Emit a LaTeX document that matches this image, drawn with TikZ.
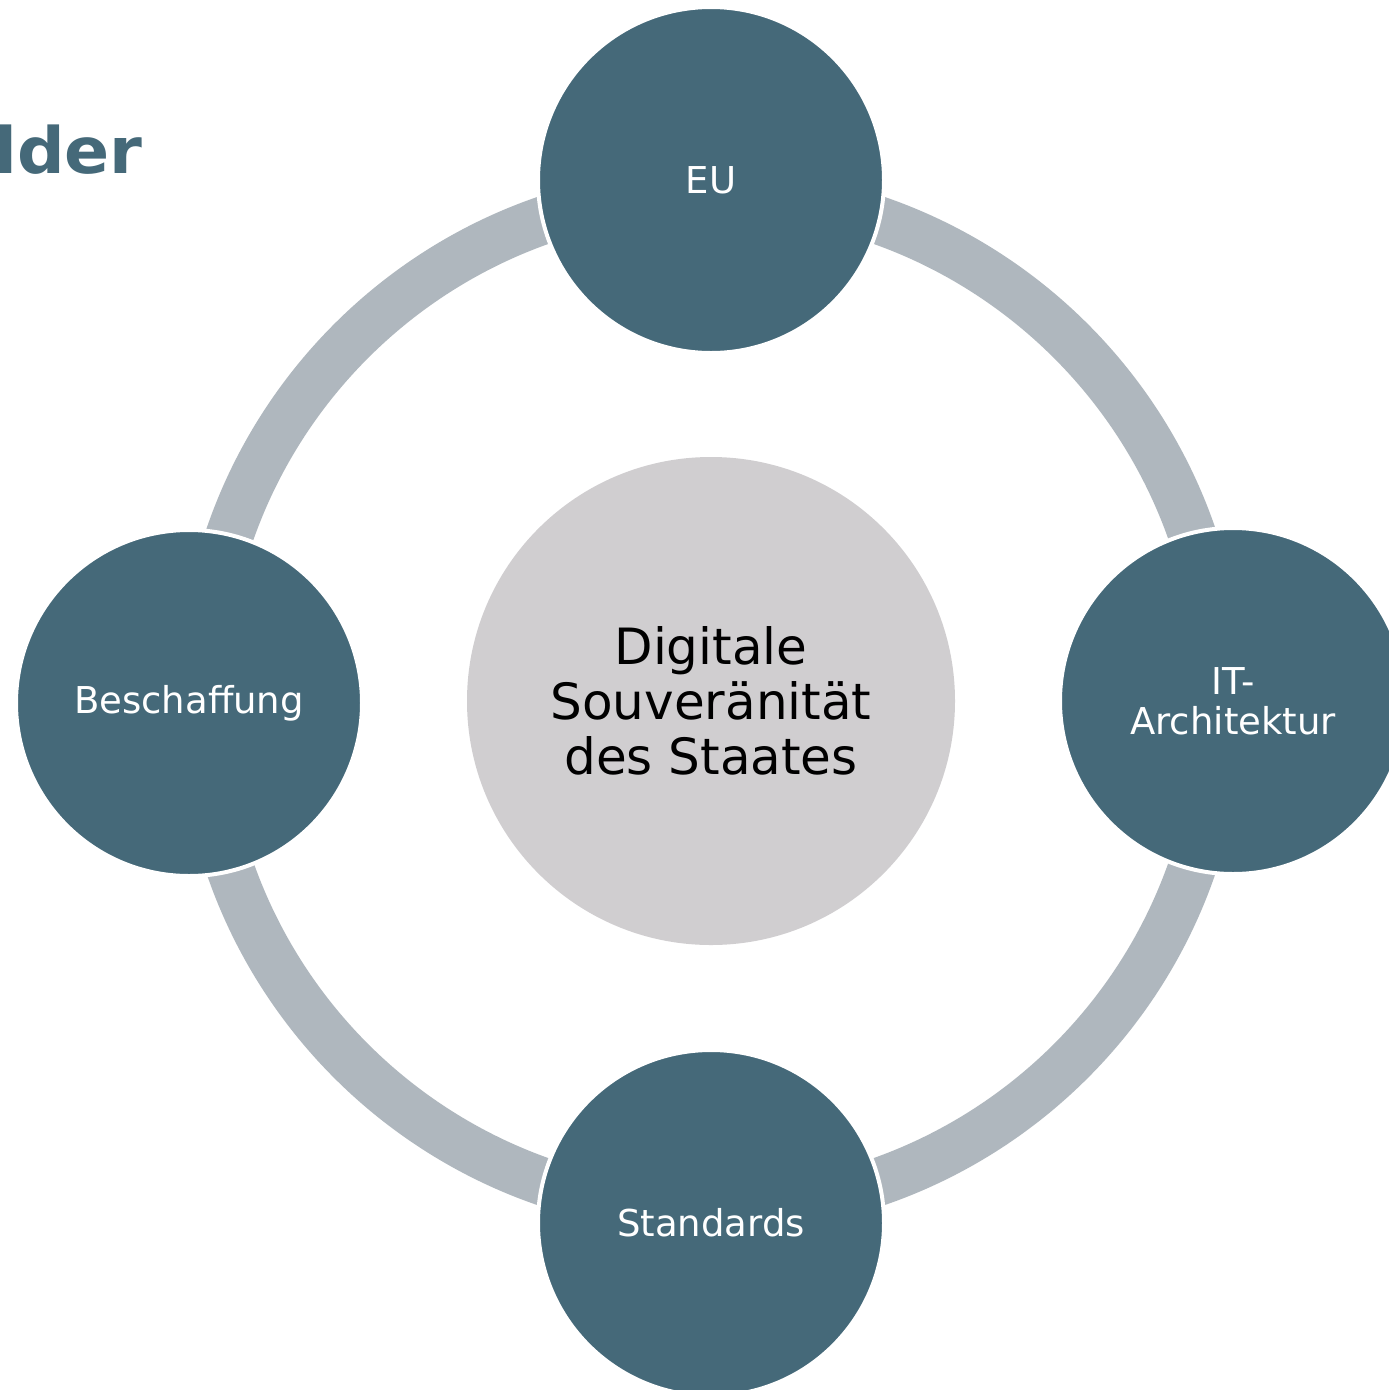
\documentclass[tikz,border=0pt]{standalone}
\usepackage{fontspec}
\setmainfont{DejaVu Sans}
\definecolor{nodeblue}{HTML}{456979}
\definecolor{ringgray}{HTML}{AFB7BE}
\definecolor{centergray}{HTML}{D0CED0}
\tikzset{
  ring/.style={draw=ringgray, line width=48pt},
  outernode/.style={circle, minimum size=346pt, inner sep=0pt, fill=nodeblue, draw=white, line width=4pt, text=white, align=center, font=\fontsize{37}{40}\selectfont},
  centernode/.style={circle, minimum size=488pt, inner sep=0pt, fill=centergray, text=black, align=center, font=\fontsize{50}{55}\selectfont},
  titletext/.style={anchor=base west, inner sep=0pt, text=nodeblue, font=\bfseries\fontsize{64}{70}\selectfont}
}
\begin{document}
\begin{tikzpicture}[x=1pt,y=-1pt]
\useasboundingbox (0,0) rectangle (1389,1390);
\clip (0,0) rectangle (1389,1390);
\fill[white] (0,0) rectangle (1389,1390);
\node[titletext, xscale=1.04] (title) at (-6,173) {lder};
\coordinate (mid) at (711,701);
\draw[ring] (mid) circle[radius=509pt];
\node[centernode] (center) at (mid) {Digitale\\Souveränität\\des Staates};
\node[outernode] (eu) at (711,180) {EU};
\node[outernode] (it) at (1233,701) {IT-\\Architektur};
\node[outernode] (std) at (711,1223) {Standards};
\node[outernode] (besch) at (189,703) {Beschaffung};
\end{tikzpicture}
\end{document}
